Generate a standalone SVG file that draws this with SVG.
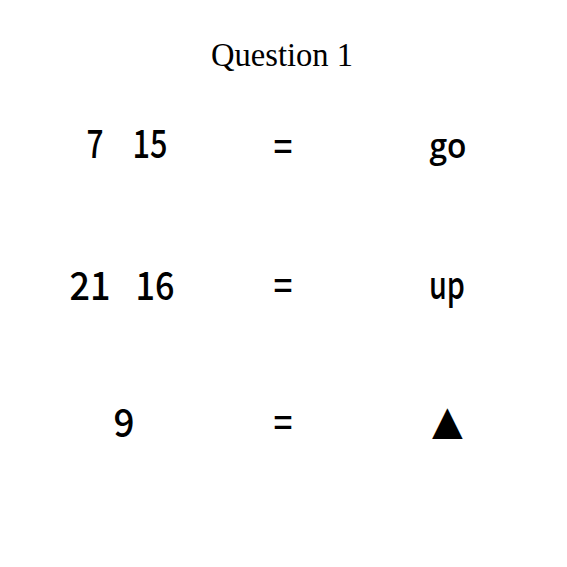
<svg xmlns="http://www.w3.org/2000/svg" width="567" height="567" viewBox="0 0 567 567">
<style>
.g{font-family:"Noto Sans CJK JP","Liberation Sans",sans-serif;font-size:39px;font-weight:500;fill:#000}
.m{font-family:"Open Sans","Noto Sans",sans-serif;font-size:34px;font-weight:600;fill:#000}
.t{font-family:"Liberation Serif","Times New Roman",serif;font-size:34px;fill:#000}
</style>
<rect width="567" height="567" fill="#fff"/>
<g id="title"><text class="t" x="211" y="66" textLength="142" lengthAdjust="spacingAndGlyphs">Question 1</text></g>
<g id="row1">
<text class="g" x="95" y="158" text-anchor="middle" textLength="17" lengthAdjust="spacingAndGlyphs">7</text>
<text class="g" x="150" y="158" text-anchor="middle" textLength="35" lengthAdjust="spacingAndGlyphs">15</text>
<text class="g" x="283" y="161" text-anchor="middle" textLength="19" lengthAdjust="spacingAndGlyphs">=</text>
<text class="m" x="448" y="158" text-anchor="middle" textLength="37" lengthAdjust="spacingAndGlyphs">go</text>
</g>
<g id="row2">
<text class="g" x="90" y="300" text-anchor="middle" textLength="41" lengthAdjust="spacingAndGlyphs">21</text>
<text class="g" x="155" y="300" text-anchor="middle" textLength="39" lengthAdjust="spacingAndGlyphs">16</text>
<text class="g" x="283" y="300" text-anchor="middle" textLength="19" lengthAdjust="spacingAndGlyphs">=</text>
<text class="g" x="447" y="299" text-anchor="middle" textLength="36" lengthAdjust="spacingAndGlyphs">up</text>
</g>
<g id="row3">
<text class="g" x="124" y="437" text-anchor="middle" textLength="21" lengthAdjust="spacingAndGlyphs">9</text>
<text class="g" x="283" y="437" text-anchor="middle" textLength="19" lengthAdjust="spacingAndGlyphs">=</text>
<text x="447.5" y="434" text-anchor="middle" style="font-family:'DejaVu Sans',sans-serif;font-size:40px" fill="#000">▲</text>
</g>
</svg>
